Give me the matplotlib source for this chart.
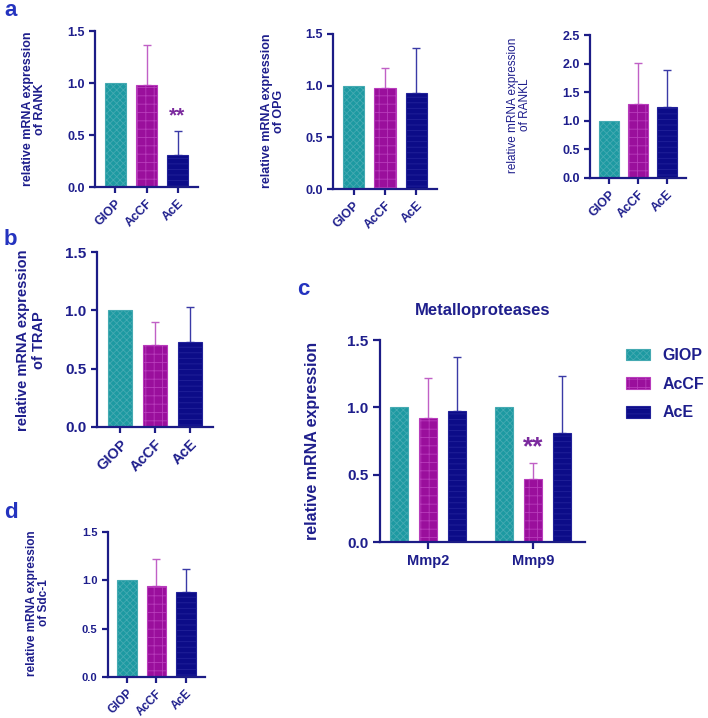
import matplotlib
matplotlib.use("Agg")
import matplotlib.pyplot as plt
import numpy as np

plt.rcParams["font.family"] = ["Liberation Sans", "DejaVu Sans"]
plt.rcParams["font.weight"] = "bold"
plt.rcParams["hatch.linewidth"] = 0.6

groups = ["GIOP", "AcCF", "AcE"]

rank_mean = [1.0, 0.98, 0.31]
rank_sd = [0.0, 0.385, 0.23]
opg_mean = [1.0, 0.98, 0.926]
opg_sd = [0.0, 0.194, 0.44]
rankl_mean = [1.0, 1.288, 1.247]
rankl_sd = [0.0, 0.73, 0.647]
trap_mean = [1.0, 0.705, 0.73]
trap_sd = [0.0, 0.195, 0.30]
sdc1_mean = [1.0, 0.945, 0.88]
sdc1_sd = [0.0, 0.275, 0.237]

mmp_genes = ["Mmp2", "Mmp9"]
mmp_giop = [1.0, 1.0]
mmp_giop_sd = [0.0, 0.0]
mmp_accf = [0.918, 0.468]
mmp_accf_sd = [0.298, 0.116]
mmp_ace = [0.975, 0.807]
mmp_ace_sd = [0.401, 0.426]

NAVY = "#1c1c86"
TXT = "#1e1e8c"
LETTER = "#2433bf"
STAR = "#7b2a9e"
face = {"GIOP": "#1d9aa2", "AcCF": "#9a0f9c", "AcE": "#0c0c88"}
edge = {"GIOP": "#45aab2", "AcCF": "#b83cbc", "AcE": "#22229a"}
hatch = {"GIOP": "xxxxx", "AcCF": "++", "AcE": "---"}
errc = {"GIOP": "#1c98a1", "AcCF": "#c060c6", "AcE": "#3a3aa6"}

W, H = 708, 718
fig = plt.figure(figsize=(W / 100, H / 100), dpi=100)


def px_axes(left, top, right, bottom):
    return fig.add_axes([left / W, 1 - bottom / H, (right - left) / W, (bottom - top) / H])


def style_axes(ax, tick_size, ticklen=4):
    for s in ["top", "right"]:
        ax.spines[s].set_visible(False)
    for s in ["left", "bottom"]:
        ax.spines[s].set_color(NAVY)
        ax.spines[s].set_linewidth(1.6)
    ax.tick_params(colors=NAVY, width=1.6, length=ticklen, labelcolor=TXT,
                   labelsize=tick_size)
    for lab in ax.get_yticklabels() + ax.get_xticklabels():
        lab.set_fontweight("bold")


def bar_panel(ax, means, sds, ymax, ystep, tick_size=9, xlab_size=9):
    x = np.arange(len(groups))
    for i, g in enumerate(groups):
        ax.bar(x[i], means[i], width=0.68, color=face[g], edgecolor=edge[g],
               hatch=hatch[g], linewidth=0.8, zorder=2)
        if sds[i] > 0:
            ax.errorbar(x[i], means[i], yerr=[[0], [sds[i]]], color=errc[g],
                        elinewidth=1.0, capsize=3, capthick=1.0, zorder=1)
    ax.set_xlim(-0.66, 2.66)
    ax.set_ylim(0, ymax)
    ax.set_yticks(np.arange(0, ymax + 1e-9, ystep))
    ax.set_yticklabels([f"{v:.1f}" for v in np.arange(0, ymax + 1e-9, ystep)])
    ax.set_xticks(x)
    ax.set_xticklabels(groups, rotation=45, ha="right", rotation_mode="anchor",
                       fontsize=xlab_size)
    style_axes(ax, tick_size)
    ax.tick_params(axis="x", labelsize=xlab_size)


def ylab(text, cx, cy, size, weight="bold"):
    fig.text(cx / W, 1 - cy / H, text, rotation=90, ha="center", va="center",
             color=TXT, fontsize=size, fontweight=weight, multialignment="center",
             linespacing=1.1)


def letter(t, x, y):
    fig.text(x / W, 1 - y / H, t, color=LETTER, fontsize=16, fontweight="bold",
             ha="left", va="top")


# panel a
ax1 = px_axes(95, 31, 198, 187)
bar_panel(ax1, rank_mean, rank_sd, 1.5, 0.5)
ax1.text(2, rank_mean[2] + rank_sd[2] + 0.05, "**", ha="center", va="bottom",
         color=STAR, fontsize=15, fontweight="bold")
ylab("relative mRNA expression\nof RANK", 34, 109, 9)

ax2 = px_axes(333, 34, 437, 189)
bar_panel(ax2, opg_mean, opg_sd, 1.5, 0.5)
ylab("relative mRNA expression\nof OPG", 273, 111, 9)

ax3 = px_axes(590, 35, 686, 178)
bar_panel(ax3, rankl_mean, rankl_sd, 2.5, 0.5)
ylab("relative mRNA expression\nof RANKL", 519, 105, 8.5, weight="normal")

# panel b
axb = px_axes(97, 252, 213, 427)
bar_panel(axb, trap_mean, trap_sd, 1.5, 0.5, tick_size=11, xlab_size=10.5)
ylab("relative mRNA expression\nof TRAP", 31, 340, 10.5)

# panel d
axd = px_axes(108, 532, 205, 677)
bar_panel(axd, sdc1_mean, sdc1_sd, 1.5, 0.5, tick_size=8, xlab_size=8.5)
ylab("relative mRNA expression\nof Sdc-1", 38, 603, 8.5)

# panel c
axc = px_axes(380, 340, 585, 542)
xg = np.arange(len(mmp_genes))
off = 0.276
series = [("GIOP", mmp_giop, mmp_giop_sd), ("AcCF", mmp_accf, mmp_accf_sd),
          ("AcE", mmp_ace, mmp_ace_sd)]
for k, (g, vals, sds) in enumerate(series):
    pos = xg + (k - 1) * off
    axc.bar(pos, vals, width=0.18, color=face[g], edgecolor=edge[g], hatch=hatch[g],
            linewidth=0.8, zorder=2, label=g)
    for p, v, s in zip(pos, vals, sds):
        if s > 0:
            axc.errorbar(p, v, yerr=[[0], [s]], color=errc[g], elinewidth=1.0,
                         capsize=3, capthick=1.0, zorder=1)
axc.text(1, mmp_accf[1] + mmp_accf_sd[1] + 0.03, "**", ha="center", va="bottom",
         color=STAR, fontsize=19, fontweight="bold")
axc.set_xlim(-0.457, 1.495)
axc.set_ylim(0, 1.5)
axc.set_yticks([0, 0.5, 1.0, 1.5])
axc.set_yticklabels(["0.0", "0.5", "1.0", "1.5"])
axc.set_xticks(xg)
axc.set_xticklabels(mmp_genes)
style_axes(axc, 11, ticklen=5)
axc.tick_params(axis="x", labelsize=10.5)
axc.set_title("Metalloproteases", color=TXT, fontsize=12, fontweight="bold", pad=18)
ylab("relative mRNA expression", 313, 441, 11.5)
leg = axc.legend(loc="upper left", bbox_to_anchor=(1.2, 0.96), frameon=False,
                 fontsize=11.5, handlelength=1.5, handleheight=0.75, labelspacing=0.85,
                 handletextpad=0.8, borderaxespad=0, borderpad=0)
for t in leg.get_texts():
    t.set_color(TXT)
    t.set_fontweight("bold")

letter("a", 4, 0)
letter("b", 4, 229)
letter("c", 297, 279)
letter("d", 4, 502)

fig.savefig("out.png", dpi=100, facecolor="white")
